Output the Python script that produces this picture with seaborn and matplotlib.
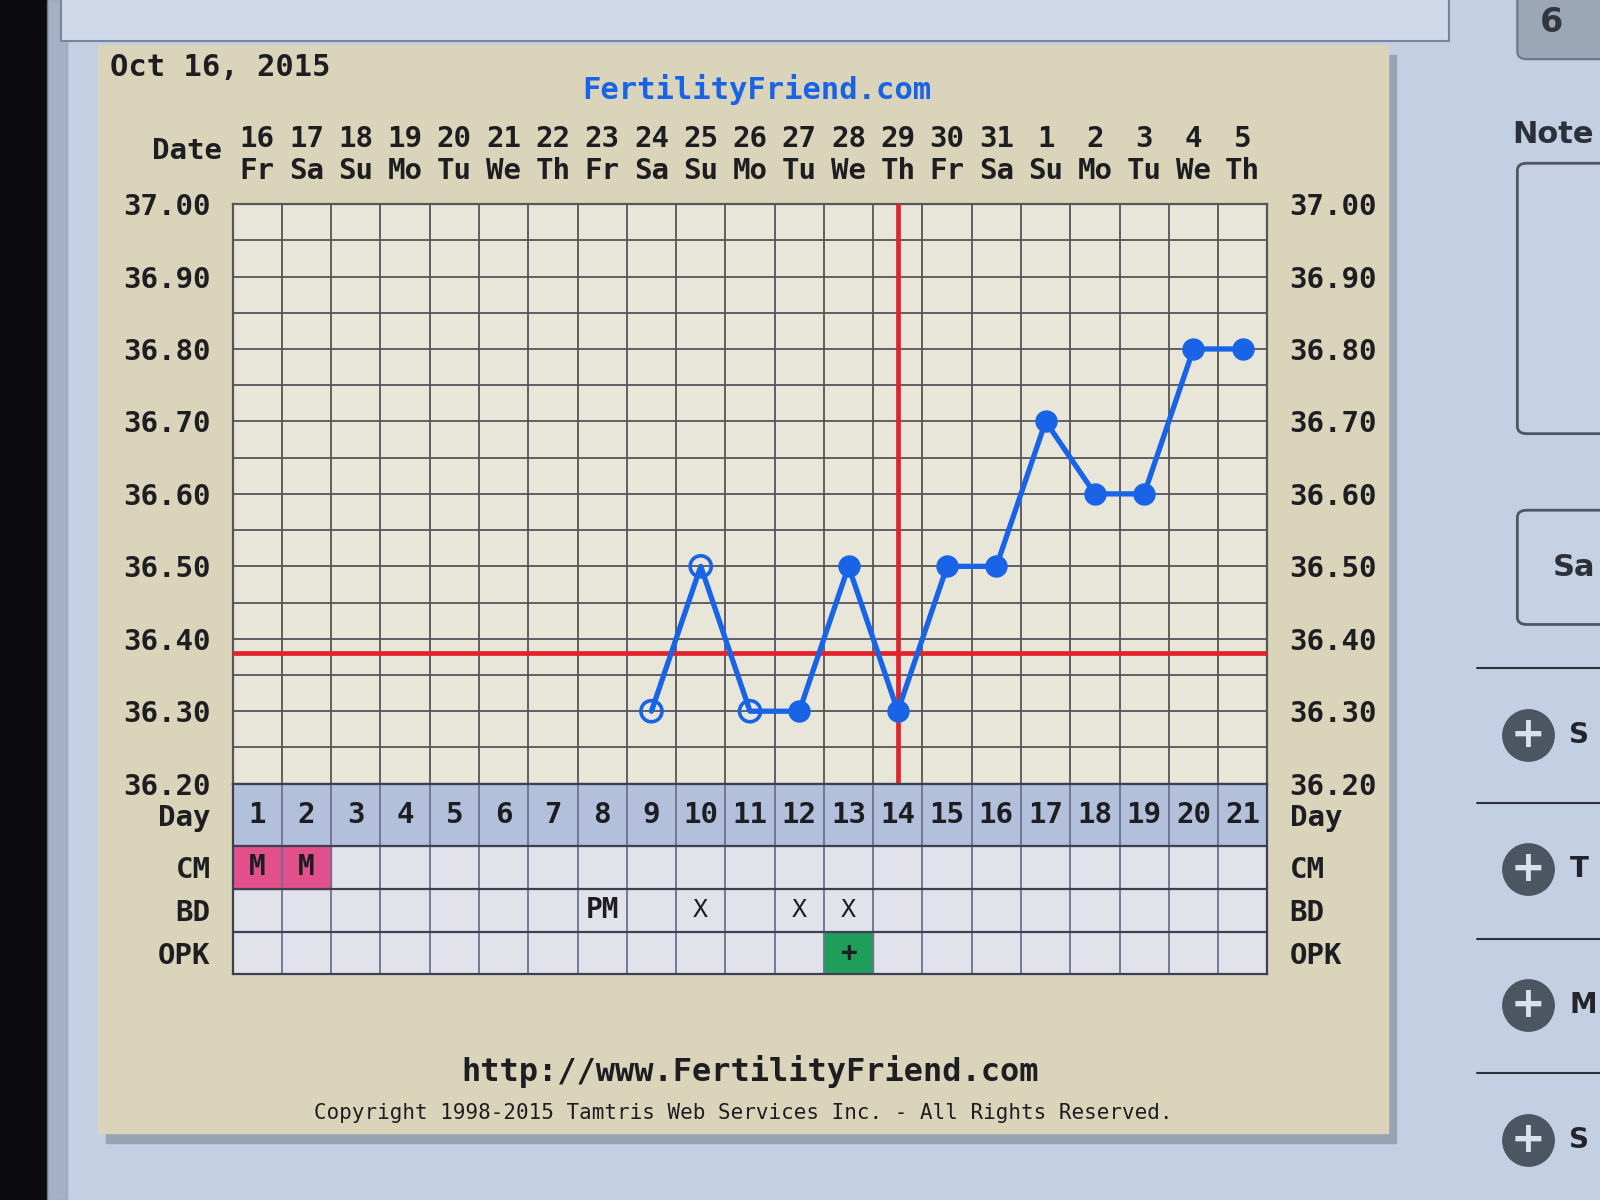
import numpy as np
import pandas as pd
import matplotlib
matplotlib.use("Agg")
import matplotlib.pyplot as plt
from matplotlib.patches import Rectangle, FancyBboxPatch
import seaborn as sns

# ---------------- data ----------------
cycle_days = list(range(1, 22))
date_numbers = ["16", "17", "18", "19", "20", "21", "22", "23", "24", "25", "26",
                "27", "28", "29", "30", "31", "1", "2", "3", "4", "5"]
weekdays = ["Fr", "Sa", "Su", "Mo", "Tu", "We", "Th", "Fr", "Sa", "Su", "Mo",
            "Tu", "We", "Th", "Fr", "Sa", "Su", "Mo", "Tu", "We", "Th"]
temp_days = [9, 10, 11, 12, 13, 14, 15, 16, 17, 18, 19, 20, 21]
temps = [36.30, 36.50, 36.30, 36.30, 36.50, 36.30, 36.50, 36.50, 36.70,
         36.60, 36.60, 36.80, 36.80]
open_marker = [True, True, True, False, False, False, False, False, False,
               False, False, False, False]
coverline = 36.38
ovulation_day = 14
cm_values = ["M", "M"] + [""] * 19
bd_values = [""] * 7 + ["PM", "", "X", "", "X", "X"] + [""] * 8
opk_values = [""] * 12 + ["+"] + [""] * 8
y_tick_values = [36.20, 36.30, 36.40, 36.50, 36.60, 36.70, 36.80, 36.90, 37.00]
row_labels = ["OPK", "BD", "CM", "Day"]

df = pd.DataFrame({"day": temp_days, "temp": temps, "open": open_marker})

# ---------------- style ----------------
sns.set_theme(style="white")
plt.rcParams["font.family"] = ["DejaVu Sans Mono", "DejaVu Sans"]
plt.rcParams["font.weight"] = "bold"

BLUE = "#1863e6"
RED = "#e3222c"
GRID = "#55555b"
BEIGE = "#d9d4ba"
PLOT_BG = "#e8e5d9"
DAY_BG = "#b3c0dc"
CELL_BG = "#e2e2ea"
PINK = "#e2508c"
GREEN = "#1f9d5b"
SCREEN = "#c3cfe2"
INK = "#1e1e22"

fig = plt.figure(figsize=(16, 12), dpi=100)
fig.patch.set_facecolor(SCREEN)

W, H = 1568.0, 1176.0
def fx(x):
    return x / W
def fy(y):
    return 1 - y / H

# ---------------- background decorations ----------------
fig.add_artist(Rectangle((0, 0), fx(46), 1, transform=fig.transFigure,
                         color="#0b0b0d", zorder=0))
fig.add_artist(Rectangle((fx(46), 0), fx(20), 1, transform=fig.transFigure,
                         color="#8f9cb2", zorder=0, alpha=0.6))
# top text box edge
fig.add_artist(Rectangle((fx(60), fy(40)), fx(1360), 0.05, transform=fig.transFigure,
                         facecolor="#cfd9ea", edgecolor="#7b8598", lw=1.5, zorder=0))
# right UI
fig.add_artist(FancyBboxPatch((fx(1487), fy(58)), fx(120), 80 / H,
                              boxstyle="round,pad=0,rounding_size=0.006",
                              transform=fig.transFigure, facecolor="#9ba6b6",
                              edgecolor="#6c7684", lw=1.5, zorder=0))
fig.text(fx(1520), fy(22), "6", fontsize=24, color="#33373d", ha="center",
         va="center", family="DejaVu Sans", weight="bold")
fig.text(fx(1482), fy(132), "Note", fontsize=22, color="#2c3038", ha="left",
         va="center", family="DejaVu Sans", weight="bold")
fig.add_artist(FancyBboxPatch((fx(1487), fy(425)), fx(120), 265 / H,
                              boxstyle="round,pad=0,rounding_size=0.006",
                              transform=fig.transFigure, facecolor="#c6d1e3",
                              edgecolor="#4f5663", lw=2, zorder=0))
fig.add_artist(FancyBboxPatch((fx(1487), fy(612)), fx(120), 112 / H,
                              boxstyle="round,pad=0,rounding_size=0.006",
                              transform=fig.transFigure, facecolor="#c6d1e3",
                              edgecolor="#4f5663", lw=2, zorder=0))
fig.text(fx(1522), fy(556), "Sa", fontsize=22, color="#2c3038", ha="left",
         va="center", family="DejaVu Sans", weight="bold")
for yline in [655, 787, 920, 1052]:
    fig.add_artist(plt.Line2D([fx(1447), 1], [fy(yline), fy(yline)],
                              transform=fig.transFigure, color="#2c3038", lw=1.5))
for yc, letter in zip([720, 852, 985, 1117], ["S", "T", "M", "S"]):
    fig.add_artist(plt.Line2D([fx(1497)], [fy(yc)], transform=fig.transFigure,
                              marker="o", markersize=37, markerfacecolor="#4c5662",
                              markeredgecolor="#4c5662", zorder=1))
    fig.text(fx(1497), fy(yc), "+", fontsize=30, color="#d8e0ec", ha="center",
             va="center", family="DejaVu Sans", weight="bold", zorder=2)
    fig.text(fx(1538), fy(yc), letter, fontsize=20, color="#22262c", ha="left",
             va="center", family="DejaVu Sans", weight="bold")

# beige panel with shadow
fig.add_artist(Rectangle((fx(104), fy(1120)), fx(1264), 1066 / H,
                         transform=fig.transFigure, color="#9aa3b2", zorder=0))
fig.add_artist(Rectangle((fx(96), fy(1110)), fx(1264), 1066 / H,
                         transform=fig.transFigure, color=BEIGE, zorder=0))

# ---------------- temperature chart ----------------
ax = fig.add_axes([fx(228), fy(768), fx(1242 - 228), (768 - 200) / H])
ax.set_facecolor(PLOT_BG)

sns.lineplot(data=df, x="day", y="temp", ax=ax, color=BLUE, lw=3.8, zorder=4,
             legend=False)
sns.scatterplot(data=df[~df["open"]], x="day", y="temp", ax=ax, color=BLUE,
                s=260, edgecolor=BLUE, linewidth=0, zorder=5, legend=False)
sns.scatterplot(data=df[df["open"]], x="day", y="temp", ax=ax, facecolor="none",
                s=230, edgecolor=BLUE, linewidth=2.6, zorder=5, legend=False)

ax.axhline(coverline, color=RED, lw=3.4, zorder=3)
ax.axvline(ovulation_day, color=RED, lw=3.4, zorder=3)

ax.set_xlim(0.5, 21.5)
ax.set_ylim(36.20, 37.00)
ax.set_xticks(cycle_days)
ax.set_xticklabels([f"{d}\n{w}" for d, w in zip(date_numbers, weekdays)],
                   linespacing=1.15)
ax.set_xticks(np.arange(0.5, 22, 1), minor=True)
ax.set_yticks(y_tick_values)
ax.set_yticklabels([f"{v:.2f}" for v in y_tick_values])
ax.set_yticks(np.arange(36.20, 37.0001, 0.05), minor=True)
ax.tick_params(axis="x", which="both", bottom=False, top=False, labelbottom=False,
               labeltop=True, labelsize=21, pad=8, colors=INK)
ax.tick_params(axis="y", which="both", left=False, right=False, labelleft=True,
               labelright=True, labelsize=21, pad=10, colors=INK)
ax.grid(which="minor", axis="x", color=GRID, lw=1.3)
ax.grid(which="minor", axis="y", color=GRID, lw=1.3)
ax.grid(which="major", axis="y", color=GRID, lw=1.3)
ax.grid(which="major", axis="x", visible=False)
ax.set_xlabel("")
ax.set_ylabel("")
for sp in ax.spines.values():
    sp.set_color(GRID)
    sp.set_linewidth(1.6)

# ---------------- bottom table ----------------
tax = fig.add_axes([fx(228), fy(955), fx(1242 - 228), (955 - 768) / H])
tax.set_xlim(0.5, 21.5)
tax.set_ylim(0, 4.44)
tax.set_facecolor(CELL_BG)
tax.axhspan(3, 4.44, color=DAY_BG, zorder=0)
for i, d in enumerate(cycle_days):
    tax.text(d, 3.72, str(d), ha="center", va="center", fontsize=21, color=INK)
    if cm_values[i]:
        tax.add_patch(Rectangle((d - 0.5, 2), 1, 1, color=PINK, zorder=1))
        tax.text(d, 2.5, cm_values[i], ha="center", va="center", fontsize=20,
                 color=INK, zorder=3)
    if bd_values[i]:
        tax.text(d, 1.5, bd_values[i], ha="center", va="center",
                 fontsize=20 if bd_values[i] == "PM" else 18,
                 weight="bold" if bd_values[i] == "PM" else "normal",
                 color=INK, zorder=3)
    if opk_values[i]:
        tax.add_patch(Rectangle((d - 0.5, 0), 1, 1, color=GREEN, zorder=1))
        tax.text(d, 0.5, opk_values[i], ha="center", va="center", fontsize=20,
                 color=INK, zorder=3)
for xb in np.arange(0.5, 22, 1):
    tax.axvline(xb, color="#6b7290", lw=1.3, zorder=2)
for yb in [1, 2, 3]:
    tax.axhline(yb, color="#3c4050", lw=1.6, zorder=2)
tax.set_xticks([])
tax.set_yticks([0.5, 1.5, 2.5, 3.72])
tax.set_yticklabels(row_labels)
tax.tick_params(axis="y", left=False, right=False, labelleft=True, labelright=True,
                labelsize=21, pad=10, colors=INK)
for sp in tax.spines.values():
    sp.set_color("#3c4050")
    sp.set_linewidth(1.6)

# ---------------- texts ----------------
fig.text(fx(108), fy(66), "Oct 16, 2015", fontsize=22, color=INK, ha="left",
         va="center")
fig.text(fx(742), fy(88), "FertilityFriend.com", fontsize=22, color=BLUE,
         ha="center", va="center")
fig.text(fx(218), fy(148), "Date", fontsize=21, color=INK, ha="right",
         va="center")
fig.text(fx(735), fy(1050), "http://www.FertilityFriend.com", fontsize=23,
         color=INK, ha="center", va="center")
fig.text(fx(728), fy(1091),
         "Copyright 1998-2015 Tamtris Web Services Inc. - All Rights Reserved.",
         fontsize=15, color=INK, ha="center", va="center", weight="normal")

fig.savefig("out.png", dpi=100, facecolor=fig.get_facecolor())
